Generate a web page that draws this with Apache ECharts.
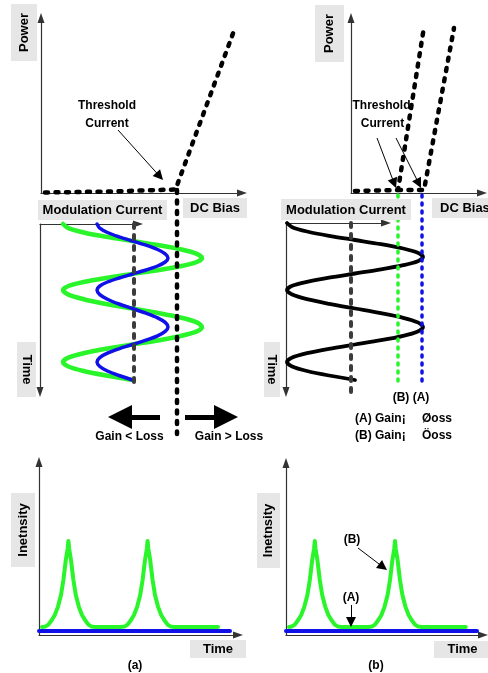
<!DOCTYPE html>
<html>
<head>
<meta charset="utf-8">
<title>Gain switching</title>
<script src="https://cdn.jsdelivr.net/npm/echarts@6/dist/echarts.min.js"></script>
<style>
html,body{margin:0;padding:0;background:#fff;}
#chart{width:488px;height:673px;}
</style>
</head>
<body>
<div id="chart"></div>
<script>
// ---- top panels: power vs DC bias ----
var liCurve  = [[2, 0.25], [34.5, 0.75], [67.25, 1.75], [97, 82.5]];
var liCurveB = [[2, 1], [12, 1.25], [23.5, 1.5], [36.5, 83]];
var liCurveA = [[23.5, 1.5], [36.5, 1.5], [51.5, 82.5]];

// ---- middle left: modulation current vs time ----
var timeL  = [0, 2.1, 4.25, 6.4, 8.5, 10.6, 12.75, 14.9, 17, 19, 21, 23, 25, 27, 29, 31, 33,
              35.3, 37.6, 40, 42.25, 44.6, 46.9, 49.2, 51.5, 53.7, 55.9, 58.1, 60.25, 62.4, 64.6, 66.8, 69,
              71.25, 73.5, 75.75, 78];
var greenL = [11.5, 14.2, 21.8, 33, 46.2, 59.6, 70.8, 78.4, 81, 78.4, 70.8, 59.6, 46.2, 33, 21.8, 14.2, 11.5,
              14.2, 21.8, 33, 46.2, 59.6, 70.8, 78.4, 81, 78.4, 70.8, 59.6, 46.2, 33, 21.8, 14.2, 11.5,
              14.2, 21.8, 33, 46.2];
var blueL  = [28.5, 29.9, 33.7, 39.5, 46.2, 53, 58.8, 62.6, 64, 62.6, 58.8, 53, 46.2, 39.5, 33.7, 29.9, 28.5,
              29.9, 33.7, 39.5, 46.2, 53, 58.8, 62.6, 64, 62.6, 58.8, 53, 46.2, 39.5, 33.7, 29.9, 28.5,
              29.9, 33.7, 39.5, 46.2];
var modCenterL = [[47, 0], [47, 80.5]];
var dcBiasL    = [[68.5, -17], [68.5, 105]];

// ---- middle right ----
var timeR  = [0, 2.1, 4.25, 6.4, 8.5, 10.6, 12.75, 14.9, 17, 19.1, 21.1, 23.2, 25.25, 27.3, 29.4, 31.4, 33.5,
              35.8, 38.1, 40.4, 42.75, 45.1, 47.4, 49.7, 52, 54.2, 56.4, 58.6, 60.75, 62.9, 65.1, 67.3, 69.5,
              71.75, 74, 76.25, 78.5];
var blackR = [0.5, 3.1, 10.5, 21.5, 34.5, 47.5, 58.6, 65.9, 68.5, 65.9, 58.6, 47.5, 34.5, 21.5, 10.5, 3.1, 0.5,
              3.1, 10.5, 21.5, 34.5, 47.5, 58.6, 65.9, 68.5, 65.9, 58.6, 47.5, 34.5, 21.5, 10.5, 3.1, 0.5,
              3.1, 10.5, 21.5, 34.5];
var modCenterR = [[32.5, 0], [32.5, 87.5]];
var biasB = [[56, -14], [56, 81]];
var biasA = [[68, -14], [68, 81]];

// ---- bottom: intensity vs time ----
var tBL = [1.5, 3.1, 4.7, 6.4, 7.9, 9.5, 11, 12.2, 13.4, 14.3, 14.7, 15.1, 16, 17.2, 18.4, 19.9, 21.5, 23, 24.7, 26.3, 28,
           40.6, 42.7, 44.3, 46, 47.5, 49.1, 50.6, 51.8, 53, 53.9, 54.3, 54.7, 55.6, 56.8, 58, 59.5, 61.1, 62.6, 64.3, 65.9, 67.6, 89.5];
var iBL = [4, 4.2, 5.2, 7.5, 10, 14.2, 20, 27.5, 37.5, 43, 47, 43, 37.5, 27.5, 20, 14.2, 10, 7.5, 5.2, 4.2, 4,
           4, 4.2, 5.2, 7.5, 10, 14.2, 20, 27.5, 37.5, 43, 47, 43, 37.5, 27.5, 20, 14.2, 10, 7.5, 5.2, 4.2, 4, 4];
var tBR = [1.5, 2.8, 4.4, 6.1, 7.6, 9.2, 10.7, 11.9, 13.1, 14, 14.4, 14.8, 15.7, 16.9, 18.1, 19.6, 21.2, 22.7, 24.4, 26, 27.7,
           41.2, 42.9, 44.5, 46.2, 47.7, 49.3, 50.8, 52, 53.2, 54.1, 54.5, 54.9, 55.8, 57, 58.2, 59.7, 61.3, 62.8, 64.5, 66.1, 67.8, 89.9];
var iBR = [4, 4.2, 5.2, 7.5, 10, 14.2, 20, 27.5, 37.5, 43, 47, 43, 37.5, 27.5, 20, 14.2, 10, 7.5, 5.2, 4.2, 4,
           4, 4.2, 5.2, 7.5, 10, 14.2, 20, 27.5, 37.5, 43, 47, 43, 37.5, 27.5, 20, 14.2, 10, 7.5, 5.2, 4.2, 4, 4];
var flatBL = [[0, 2], [95.5, 2]];
var flatBR = [[0, 2], [95.5, 2]];

var GREEN = '#2af52a', BLUE = '#1010e8', FONT = '"Liberation Sans", Arial, sans-serif';

function zip(xs, ys) { return xs.map(function (x, i) { return [x, ys[i]]; }); }

var arrowEnd = {show: true, onZero: false, lineStyle: {color: '#333', width: 1.2},
                symbol: ['none', 'triangle'], symbolSize: [7, 10]};
var arrowStart = {show: true, onZero: false, lineStyle: {color: '#333', width: 1.2},
                  symbol: ['triangle', 'none'], symbolSize: [7, 10]};
function ax(g, min, max, extra) {
  var a = {type: 'value', gridIndex: g, min: min, max: max, axisLine: arrowEnd,
           axisTick: {show: false}, axisLabel: {show: false}, splitLine: {show: false}};
  for (var k in extra) a[k] = extra[k];
  return a;
}
function curve(g, data, color, width, dash, smooth, z) {
  return {type: 'line', xAxisIndex: g, yAxisIndex: g, data: data, symbol: 'none', showSymbol: false,
          clip: false, silent: true, smooth: smooth || false, z: z || 2,
          lineStyle: {color: color, width: width, type: dash || 'solid', cap: 'round', join: 'round'}};
}
function arrows(g, list, width, size) {
  return {type: 'lines', coordinateSystem: 'cartesian2d', xAxisIndex: g, yAxisIndex: g, clip: false, silent: true,
          symbol: ['none', 'triangle'], symbolSize: size, z: 5,
          lineStyle: {color: '#000', width: width, opacity: 1},
          data: list.map(function (c) { return {coords: c}; })};
}
function box(x, y, w, h) { return {type: 'rect', z: 10, shape: {x: x, y: y, width: w, height: h}, style: {fill: '#e6e6e6'}}; }
function txt(s, x, y, o) {
  o = o || {};
  var al = o.align || 'center';
  return {type: 'text', x: x, y: y, rotation: o.rot || 0, z: o.z == null ? 11 : o.z,
          style: {text: s, font: 'bold ' + (o.size || 12) + 'px ' + FONT, fill: '#000',
                  align: al, textAlign: al, verticalAlign: 'middle', textVerticalAlign: 'middle'}};
}

var BLACKDASH = [3, 7.5], GRAYDASH = [4, 7], FINEDASH = [2, 6];
var hidden = {show: false};

var option = {
  backgroundColor: '#fff',
  animation: false,
  grid: [
    {left: 41, top: 18, width: 201, height: 175, outerBoundsMode: 'none'},   // 0 top left
    {left: 351, top: 18, width: 131, height: 175, outerBoundsMode: 'none'},  // 1 top right
    {left: 40, top: 224, width: 98, height: 168, outerBoundsMode: 'none'},   // 2 middle left axes
    {left: 286, top: 223, width: 100, height: 169, outerBoundsMode: 'none'}, // 3 middle right axes
    {left: 39, top: 462, width: 199, height: 173, outerBoundsMode: 'none'},  // 4 bottom left
    {left: 286, top: 463, width: 197, height: 172, outerBoundsMode: 'none'}, // 5 bottom right
    {left: 40, top: 184, width: 200, height: 260, outerBoundsMode: 'none'},  // 6 middle left data
    {left: 286, top: 183, width: 160, height: 220, outerBoundsMode: 'none'}  // 7 middle right data
  ],
  xAxis: [
    ax(0, 0, 100.5), ax(1, 0, 65.5),
    ax(2, 0, 49, {position: 'top'}), ax(3, 0, 50, {position: 'top'}),
    ax(4, 0, 99.5), ax(5, 0, 98.5),
    ax(6, 0, 100, {show: false}), ax(7, 0, 80, {show: false})
  ],
  yAxis: [
    ax(0, 0, 87.5), ax(1, 0, 87.5),
    ax(2, 0, 84, {inverse: true, axisLine: arrowStart}), ax(3, 0, 84.5, {inverse: true, axisLine: arrowStart}),
    ax(4, 0, 86.5), ax(5, 0, 86),
    ax(6, -20, 110, {inverse: true, show: false}), ax(7, -20, 90, {inverse: true, show: false})
  ],
  series: [
    // top left
    curve(0, liCurve, '#000', 4.5, BLACKDASH),
    arrows(0, [[[38.5, 31.5], [59.35, 8.35]]], 1, [6, 10]),
    // top right
    curve(1, liCurveB, '#000', 4.5, BLACKDASH),
    curve(1, liCurveA, '#000', 4.5, BLACKDASH),
    arrows(1, [[[13, 27.5], [21.6, 4.85]], [[22.5, 27.5], [33.9, 4.75]]], 1, [6, 10]),
    // middle left
    curve(6, zip(greenL, timeL), GREEN, 4.5, 'solid', 0.3),
    curve(6, zip(blueL, timeL), BLUE, 3.5, 'solid', 0.3),
    curve(6, modCenterL, '#3c3c3c', 4, GRAYDASH, false, 3),
    curve(6, dcBiasL, '#000', 4.5, BLACKDASH, false, 3),
    arrows(6, [[[60, 96.5], [40, 96.5]], [[72.5, 96.5], [93, 96.5]]], 5, [14, 24]),
    // middle right
    curve(7, zip(blackR, timeR), '#000', 3.8, 'solid', 0.3),
    curve(7, modCenterR, '#3c3c3c', 4, GRAYDASH, false, 3),
    curve(7, biasB, GREEN, 3.5, FINEDASH, false, 3),
    curve(7, biasA, BLUE, 3.5, FINEDASH, false, 3),
    // bottom left
    curve(4, zip(tBL, iBL), GREEN, 4),
    curve(4, flatBL, BLUE, 4),
    // bottom right
    curve(5, zip(tBR, iBR), GREEN, 4),
    curve(5, flatBR, BLUE, 4),
    arrows(5, [[[36, 43.5], [48.5, 34]], [[32.5, 15], [32.5, 6.5]]], 1, [6, 10])
  ],
  graphic: [
    box(11, 4, 26, 57), txt('Power', 24, 32.5, {size: 13, rot: Math.PI / 2}),
    box(315, 5, 29, 57), txt('Power', 329.5, 33.5, {size: 13, rot: Math.PI / 2}),
    box(38, 200, 129, 20), txt('Modulation Current', 102.5, 210, {size: 13}),
    box(183, 198, 64, 20), txt('DC Bias', 215, 208, {size: 13}),
    box(281, 199, 130, 21), txt('Modulation Current', 346, 210, {size: 13}),
    box(432, 198, 60, 20), txt('DC Bias', 440, 208, {size: 13, align: 'left'}),
    box(17, 342, 19, 55), txt('Time', 26.5, 369.5, {size: 13, rot: -Math.PI / 2}),
    box(264, 342, 16, 55), txt('Time', 272, 369.5, {size: 13, rot: -Math.PI / 2}),
    box(11, 493, 24, 74), txt('Inetnsity', 23, 530, {size: 13, rot: Math.PI / 2}),
    box(257, 493, 23, 75), txt('Inetnsity', 268.5, 530.5, {size: 13, rot: Math.PI / 2}),
    box(190, 640, 56, 18), txt('Time', 218, 649, {size: 13}),
    box(434, 641, 60, 17), txt('Time', 462.5, 649.5, {size: 13}),
    txt('Threshold', 107, 106, {z: 1}), txt('Current', 107, 124, {z: 1}),
    txt('Threshold', 381.5, 106, {z: 1}), txt('Current', 382.5, 124, {z: 1}),
    txt('Gain < Loss', 129.5, 437), txt('Gain > Loss', 229, 437),
    txt('(B) (A)', 411, 398),
    txt('(A) Gain\u00a1', 355, 419, {align: 'left'}), txt('\u00d8oss', 422, 419, {align: 'left'}),
    txt('(B) Gain\u00a1', 355, 436, {align: 'left'}), txt('\u00d6oss', 422, 436, {align: 'left'}),
    txt('(B)', 352, 540), txt('(A)', 351, 598),
    txt('(a)', 135, 666), txt('(b)', 376, 666)
  ]
};

var chart = echarts.init(document.getElementById('chart'));
chart.setOption(option);
</script>
</body>
</html>
